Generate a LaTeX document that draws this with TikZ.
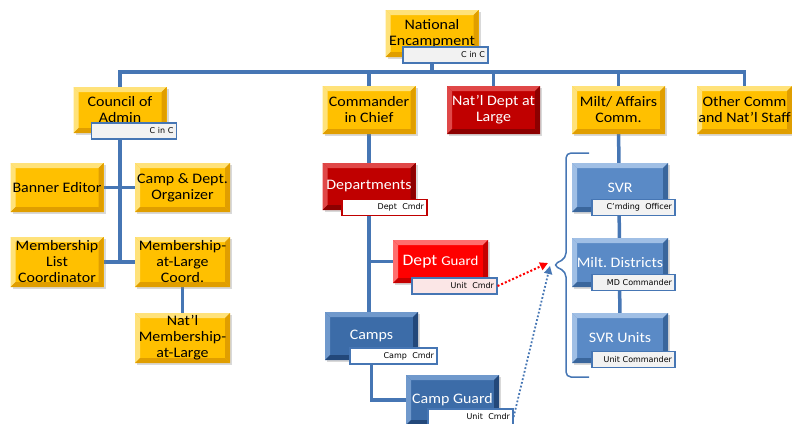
\documentclass[tikz,border=0pt]{standalone}
\usepackage{fontspec}
\setmainfont{Carlito}[FakeStretch=1.1]
\newfontfamily\tagfont{DejaVu Sans}
\frenchspacing
\usetikzlibrary{arrows.meta, backgrounds, shadows}
\definecolor{goldc}{HTML}{FFC000}
\definecolor{goldlt}{HTML}{FFE27A}
\definecolor{golddk}{HTML}{E09E00}
\definecolor{redc}{HTML}{C00000}
\definecolor{redlt}{HTML}{E04848}
\definecolor{reddk}{HTML}{8C0000}
\definecolor{hotc}{HTML}{FF0000}
\definecolor{hotlt}{HTML}{FF6E6E}
\definecolor{hotdk}{HTML}{C40000}
\definecolor{bluec}{HTML}{5A8AC6}
\definecolor{bluelt}{HTML}{A0BFE5}
\definecolor{bluedk}{HTML}{3A669C}
\definecolor{navyc}{HTML}{3C6CA8}
\definecolor{navylt}{HTML}{7099CC}
\definecolor{navydk}{HTML}{23487A}
\definecolor{linec}{HTML}{4676B4}
\definecolor{tagfill}{HTML}{F2F2F2}
\definecolor{pinkfill}{HTML}{FBE6E6}

\begin{document}
\begin{tikzpicture}[x=1pt, y=-1pt,
    box/.style={rectangle, minimum width=93pt, minimum height=48pt, inner sep=1pt,
      align=center, font=\fontsize{14.5}{16}\selectfont,
      drop shadow={opacity=0.3, shadow xshift=2pt, shadow yshift=-2pt}},
    bevel/.style 2 args={path picture={
      \path (path picture bounding box.north west) coordinate (pbnw)
            (path picture bounding box.north east) coordinate (pbne)
            (path picture bounding box.south west) coordinate (pbsw)
            (path picture bounding box.south east) coordinate (pbse);
      \fill[#1] (pbnw) -- (pbne) -- ([xshift=-5pt,yshift=-5pt]pbne) -- ([xshift=5pt,yshift=-5pt]pbnw) -- cycle;
      \fill[#1] (pbnw) -- ([xshift=5pt,yshift=-5pt]pbnw) -- ([xshift=5pt,yshift=5pt]pbsw) -- (pbsw) -- cycle;
      \fill[#2] (pbsw) -- (pbse) -- ([xshift=-5pt,yshift=5pt]pbse) -- ([xshift=5pt,yshift=5pt]pbsw) -- cycle;
      \fill[#2] (pbne) -- (pbse) -- ([xshift=-5pt,yshift=5pt]pbse) -- ([xshift=-5pt,yshift=-5pt]pbne) -- cycle;
    }},
    goldbox/.style={box, fill=goldc, bevel={goldlt}{golddk}, text=black},
    redbox/.style={box, fill=redc, bevel={redlt}{reddk}, text=white},
    hotbox/.style={box, fill=hotc, bevel={hotlt}{hotdk}, text=white},
    bluebox/.style={box, fill=bluec, bevel={bluelt}{bluedk}, text=white},
    navybox/.style={box, fill=navyc, bevel={navylt}{navydk}, text=white},
    cmdtag/.style={rectangle, draw=linec, line width=1.2pt, fill=tagfill,
      minimum width=85pt, minimum height=16pt, inner xsep=3pt, inner ysep=1pt,
      text width=79pt, align=right, font=\tagfont\fontsize{8}{8}\selectfont},
    conn/.style={draw=linec, line width=3.5pt, line cap=rect},
    brace/.style={draw=linec, line width=1.5pt, rounded corners=5pt}]
\useasboundingbox (0,0) rectangle (792,423);

\node[goldbox, minimum height=47pt] (nat) at (432,33.5) {National\\Encampment};
\node[cmdtag] (natlbl) at (445.5,55) {C in C};

\node[goldbox, minimum height=46pt] (council) at (120,110) {Council of\\Admin};
\node[cmdtag] (councillbl) at (134,131) {C in C};
\node[goldbox] (cinc) at (369,110) {Commander\\in Chief};
\node[redbox] (natdept) at (493.5,110) {Nat’l Dept at\\Large};
\node[goldbox] (milt) at (618.5,110) {Milt/ Affairs\\Comm.};
\node[goldbox, minimum width=95pt] (other) at (744.5,110) {Other Comm\\and Nat’l Staff};

\node[goldbox, minimum height=49pt] (banner) at (57,187.5) {Banner Editor};
\node[goldbox, minimum width=95pt, minimum height=49pt] (camporg) at (182.5,187.5) {Camp \& Dept.\\Organizer};
\node[goldbox, minimum height=50pt] (mlc) at (57,262) {Membership\\List\\Coordinator};
\node[goldbox, minimum width=95pt, minimum height=50pt] (malc) at (182.5,262) {Membership-\\at-Large\\Coord.};
\node[goldbox, minimum width=95pt, minimum height=50pt] (natmal) at (182.5,338) {Nat’l\\Membership-\\at-Large};

\node[redbox, minimum height=47pt] (depts) at (369,186.5) {Departments};
\node[cmdtag, draw=redc, fill=white] (deptslbl) at (384.5,207.5) {Dept\ \ Cmdr};
\node[hotbox, minimum width=95pt, minimum height=43pt] (dguard) at (440.5,261.5) {\fontsize{16}{16}\selectfont Dept {\fontsize{13.5}{16}\selectfont Guard}};
\node[cmdtag, fill=pinkfill] (dguardlbl) at (454.5,286) {Unit\ \ Cmdr};
\node[navybox] (camps) at (371.5,336) {Camps};
\node[cmdtag, fill=white, minimum width=87pt, text width=81pt] (campslbl) at (393.5,356) {Camp\ \ Cmdr};
\node[navybox, minimum height=50pt] (cguard) at (452.5,400) {Camp Guard};
\node[cmdtag, fill=white] (cguardlbl) at (470.5,417) {Unit\ \ Cmdr};

\node[bluebox, minimum width=96pt, minimum height=49pt] (svr) at (620,187.5) {SVR};
\node[cmdtag, minimum width=83pt, text width=77pt] (svrlbl) at (633.5,207.5) {C’mding\ \ Officer};
\node[bluebox, minimum width=96pt, minimum height=49pt] (mdist) at (620,262.5) {Milt. Districts};
\node[cmdtag, minimum width=83pt, text width=77pt] (mdistlbl) at (633.5,282.5) {MD Commander};
\node[bluebox, minimum width=96pt, minimum height=50pt] (svru) at (620,338) {SVR Units};
\node[cmdtag, minimum width=83pt, text width=77pt] (svrulbl) at (633.5,359.5) {Unit Commander};

\begin{scope}[on background layer]
\coordinate (bus) at (0,72);
\draw[conn] (council |- bus) -- (other |- bus);
\foreach \n in {nat,council,cinc,natdept,milt,other}
  \draw[conn] (\n) -- (\n |- bus);
\draw[conn] (council) -- (council |- mlc);
\draw[conn] (banner) -- (camporg);
\draw[conn] (mlc) -- (malc);
\draw[conn] (malc) -- (natmal);
\draw[conn] (cinc) -- (depts);
\draw[conn] (depts) -- (depts |- camps);
\draw[conn] (depts |- dguard) -- (dguard);
\draw[conn] (camps) |- (cguard);
\draw[conn] (milt) -- (svru);
\end{scope}

\coordinate (brtip) at (553,265);
\coordinate (arrR) at (548,263);
\coordinate (arrB) at (550,266);
\draw[brace] (589,153) -- (566,153) -- (566,258) -- (brtip) -- (566,272) -- (566,377) -- (589,377);
\draw[hotc, line width=2pt, dotted, -{Triangle[length=8pt, width=8pt]}] (dguardlbl.east) -- (arrR);
\draw[linec, line width=1.8pt, dotted, -{Triangle[length=8pt, width=8pt]}] (cguardlbl.east) -- (arrB);
\end{tikzpicture}
\end{document}
